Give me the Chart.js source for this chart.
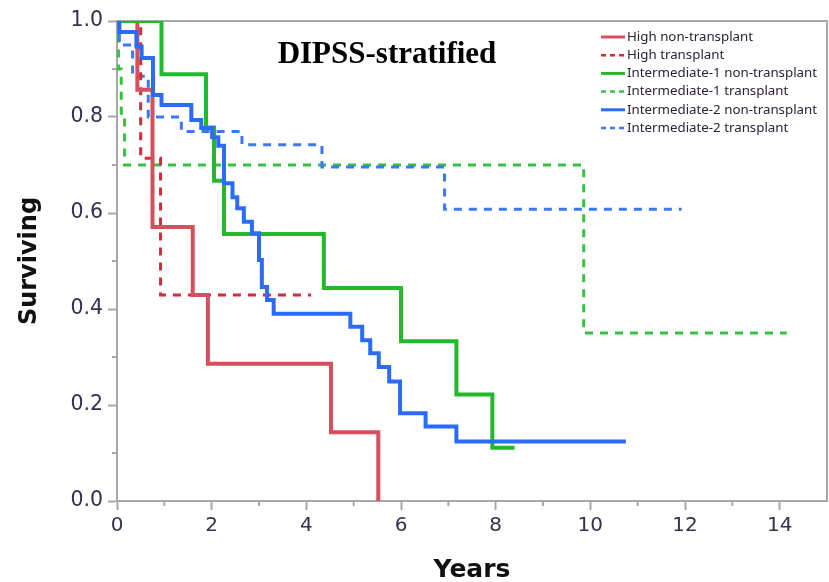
<!DOCTYPE html>
<html>
<head>
<meta charset="utf-8">
<title>DIPSS-stratified survival</title>
<script src="https://cdn.jsdelivr.net/npm/chart.js@4.4.0/dist/chart.umd.min.js"></script>
<style>
  html, body { margin: 0; padding: 0; background: #fff; }
</style>
</head>
<body>
<canvas id="km-chart" width="829" height="582"></canvas>
<script>
// Kaplan-Meier curves, survival by DIPSS group and transplant status
const seriesLabels = [
  'High non-transplant',
  'High transplant',
  'Intermediate-1 non-transplant',
  'Intermediate-1 transplant',
  'Intermediate-2 non-transplant',
  'Intermediate-2 transplant'
];

// event times (years) and surviving fraction after each step
const highNonTxTime = [0, 0.43, 0.75, 1.6, 1.92, 4.52, 5.52];
const highNonTxSurv = [1, 0.857, 0.571, 0.429, 0.286, 0.143, 0];

const highTxTime = [0, 0.5, 0.92, 4.1];
const highTxSurv = [1, 0.714, 0.429, 0.429];

const int1NonTxTime = [0, 0.94, 1.88, 2.05, 2.26, 4.37, 6.0, 7.17, 7.93, 8.4];
const int1NonTxSurv = [1, 0.889, 0.778, 0.667, 0.556, 0.444, 0.333, 0.222, 0.111, 0.111];

const int1TxTime = [0, 0.03, 0.09, 0.16, 9.86, 14.15];
const int1TxSurv = [1, 0.9, 0.8, 0.7, 0.35, 0.35];

const int2NonTxTime = [0, 0.05, 0.41, 0.52, 0.76, 0.94, 1.57, 1.78, 2.01, 2.14, 2.26, 2.44, 2.54,
  2.68, 2.85, 3.0, 3.06, 3.17, 3.31, 4.93, 5.18, 5.35, 5.53, 5.75, 5.98, 6.52, 7.17, 10.75];
const int2NonTxSurv = [1, 0.977, 0.947, 0.923, 0.846, 0.825, 0.794, 0.777, 0.758, 0.74, 0.662, 0.633, 0.61,
  0.582, 0.558, 0.502, 0.446, 0.419, 0.39, 0.363, 0.335, 0.308, 0.279, 0.249, 0.183, 0.155, 0.124, 0.124];

const int2TxTime = [0, 0.05, 0.33, 0.66, 1.36, 2.64, 4.33, 6.92, 11.93];
const int2TxSurv = [1, 0.95, 0.885, 0.8, 0.77, 0.742, 0.696, 0.608, 0.608];

const xTickValues = [0, 2, 4, 6, 8, 10, 12, 14];
const yTickValues = [0, 0.2, 0.4, 0.6, 0.8, 1.0];

const axisGray = '#a8a8a8';
const labelColor = '#36304e';

function curve(times, surv) {
  return times.map((t, i) => ({ x: t, y: surv[i] }));
}

function kmSet(i, times, surv, color, dashed, order) {
  return {
    label: seriesLabels[i],
    data: curve(times, surv),
    borderColor: color,
    backgroundColor: color,
    borderWidth: dashed ? 3 : 4,
    borderDash: dashed ? [8, 7] : [],
    stepped: true,
    pointRadius: 0,
    fill: false,
    order: order
  };
}

const datasets = [
  kmSet(0, highNonTxTime, highNonTxSurv, '#d74f5c', false, 3),
  kmSet(1, highTxTime, highTxSurv, '#d42a3b', true, 4),
  kmSet(2, int1NonTxTime, int1NonTxSurv, '#22b92b', false, 2),
  kmSet(3, int1TxTime, int1TxSurv, '#35c23e', true, 6),
  kmSet(4, int2NonTxTime, int2NonTxSurv, '#2b6cf6', false, 1),
  kmSet(5, int2TxTime, int2TxSurv, '#3b79f2', true, 5)
];

// frame, minor ticks, title and the in-plot legend
const decorations = {
  id: 'decorations',
  beforeDatasetsDraw(chart) {
    const { ctx, chartArea: a, scales: { x, y } } = chart;
    ctx.save();
    ctx.strokeStyle = axisGray;
    ctx.lineWidth = 2;
    ctx.strokeRect(a.left, a.top, a.right - a.left, a.bottom - a.top);
    ctx.beginPath();
    for (let v = 1; v < 15; v += 2) {
      const px = x.getPixelForValue(v);
      ctx.moveTo(px, a.bottom);
      ctx.lineTo(px, a.bottom + 5);
    }
    for (let v = 0.1; v < 1; v += 0.2) {
      const py = y.getPixelForValue(v);
      ctx.moveTo(a.left, py);
      ctx.lineTo(a.left - 5, py);
    }
    ctx.stroke();
    ctx.restore();
  },
  afterDraw(chart) {
    const { ctx } = chart;
    ctx.save();
    ctx.fillStyle = '#000';
    ctx.font = 'bold 31px "Liberation Serif"';
    ctx.textAlign = 'center';
    ctx.textBaseline = 'middle';
    ctx.fillText('DIPSS-stratified', 387, 55);

    ctx.font = '13.3px "Noto Sans"';
    ctx.textAlign = 'left';
    chart.data.datasets.forEach((ds, i) => {
      const ly = 37 + i * 18.2;
      const dashed = ds.borderDash.length > 0;
      ctx.strokeStyle = ds.borderColor;
      ctx.lineWidth = dashed ? 2.5 : 3;
      ctx.setLineDash(dashed ? [5, 4] : []);
      ctx.beginPath();
      ctx.moveTo(601, ly);
      ctx.lineTo(625, ly);
      ctx.stroke();
      ctx.fillStyle = '#2c2238';
      ctx.fillText(ds.label, 627, ly);
    });
    ctx.restore();
  }
};

new Chart(document.getElementById('km-chart'), {
  type: 'line',
  data: { datasets: datasets },
  plugins: [decorations],
  options: {
    responsive: false,
    animation: false,
    layout: { padding: { top: 21, right: 2, bottom: 0, left: 0 } },
    plugins: {
      legend: { display: false },
      tooltip: { enabled: false }
    },
    scales: {
      x: {
        type: 'linear',
        min: 0,
        max: 15,
        afterFit: s => { s.height = 81; },
        afterBuildTicks: s => { s.ticks = xTickValues.map(v => ({ value: v })); },
        ticks: {
          padding: 4,
          color: labelColor,
          font: { family: 'DejaVu Sans', size: 20 },
          callback: v => String(v)
        },
        grid: { drawOnChartArea: false, tickLength: 9, tickColor: axisGray, tickWidth: 2 },
        border: { color: axisGray, width: 2 },
        title: {
          display: true,
          text: 'Years',
          color: '#111',
          font: { family: 'DejaVu Sans', size: 25, weight: 'bold' },
          padding: { top: 0, bottom: -3 }
        }
      },
      y: {
        min: 0,
        max: 1,
        afterFit: s => { s.width = 117; },
        afterBuildTicks: s => { s.ticks = yTickValues.map(v => ({ value: v })); },
        ticks: {
          padding: 5,
          color: labelColor,
          font: { family: 'DejaVu Sans', size: 20.5 },
          callback: v => v.toFixed(1)
        },
        grid: { drawOnChartArea: false, tickLength: 9, tickColor: axisGray, tickWidth: 2 },
        border: { color: axisGray, width: 2 },
        title: {
          display: true,
          text: 'Surviving',
          color: '#111',
          font: { family: 'DejaVu Sans', size: 24, weight: 'bold' },
          padding: { top: 15, bottom: 0 }
        }
      }
    }
  }
});
</script>
</body>
</html>
